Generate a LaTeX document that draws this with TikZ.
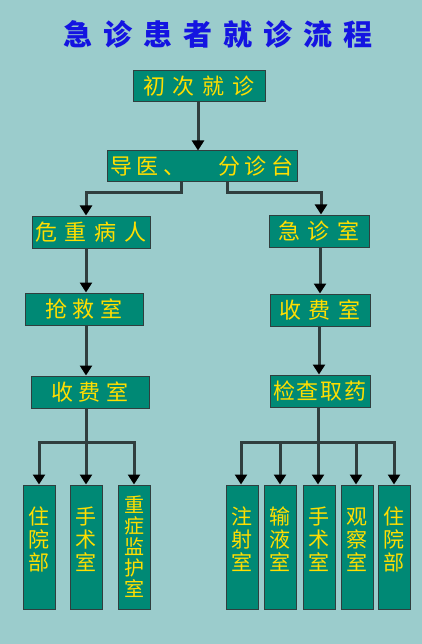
\documentclass[tikz,border=0pt]{standalone}
\usepackage{fontspec}
\usepackage{tikz}
\usetikzlibrary{arrows.meta}
\newfontfamily\cjk{Noto Sans CJK SC}
\definecolor{bgteal}{RGB}{155,204,204}
\definecolor{boxteal}{RGB}{0,137,117}
\definecolor{boxyellow}{RGB}{255,222,0}
\definecolor{titleblue}{RGB}{20,20,225}
\definecolor{linegray}{RGB}{48,62,62}

\makeatletter
\newcommand\spaced[2]{%
  \def\spacedsep{}%
  \@tfor\spacedc:=#2\do{\spacedsep\spacedc\def\spacedsep{\hspace{#1}}}}
\makeatother

\tikzset{
  hbox/.style={draw=linegray,line width=1pt,fill=boxteal,text=boxyellow,inner sep=0pt,
    minimum height=31pt,font=\cjk\fontsize{22}{26}\selectfont},
  vbox/.style={draw=linegray,line width=1pt,fill=boxteal,text=boxyellow,inner sep=0pt,
    minimum width=32pt,minimum height=124pt,align=center,font=\cjk\fontsize{21}{23}\selectfont},
  conn/.style={draw=linegray,line width=3pt},
  arr/.style={conn,-{Triangle[width=12pt,length=10pt,color=black]}}
}

\begin{document}
\begin{tikzpicture}[x=1pt,y=-1pt]
\useasboundingbox[fill=bgteal] (0,0) rectangle (422,644);
\node[text=titleblue,font=\cjk\bfseries\fontsize{29}{32}\selectfont] (title) at (218,34) {\spaced{11pt}{急诊患者就诊流程}};

% top
\node[hbox,minimum width=132pt] (chuci) at (199,86.5) {\spaced{8pt}{初次就诊}};
\node[hbox,minimum width=190pt] (daoyi) at (202,166.5) {\spaced{5pt}{导医、　分诊台}};
\draw[arr] (chuci.south -| 198,0) -- (daoyi.north -| 198,0);

% left column
\node[hbox,minimum width=118pt,minimum height=32pt] (weizhong) at (91,232) {\spaced{8pt}{危重病人}};
\node[hbox,minimum width=118pt,minimum height=32pt] (qiangjiu) at (84,309) {\spaced{6pt}{抢救室}};
\node[hbox,minimum width=118pt,minimum height=32pt] (shoufeiL) at (90,392) {\spaced{6pt}{收费室}};
\draw[arr] (daoyi.south -| 181,0) -- (181,193) -| (weizhong.north -| 86,0);
\draw[arr] (weizhong.south -| 86,0) -- (qiangjiu.north -| 86,0);
\draw[arr] (qiangjiu.south -| 86,0) -- (shoufeiL.north -| 86,0);

% right column
\node[hbox,minimum width=100pt,minimum height=32pt] (jizhen) at (319,231) {\spaced{8pt}{急诊室}};
\node[hbox,minimum width=100pt,minimum height=32pt] (shoufeiR) at (320,310) {\spaced{8pt}{收费室}};
\node[hbox,minimum width=100pt,minimum height=32pt] (jiancha) at (320,391) {\spaced{2pt}{检查取药}};
\draw[arr] (daoyi.south -| 227,0) -- (227,193) -| (jizhen.north -| 321,0);
\draw[arr] (jizhen.south -| 320,0) -- (shoufeiR.north -| 320,0);
\draw[arr] (shoufeiR.south -| 319,0) -- (jiancha.north -| 319,0);

% bottom left
\node[vbox,text depth=16pt] (zhuyuanL) at (39,547) {住\\院\\部};
\node[vbox,text depth=16pt] (shoushuL) at (86,547) {手\\术\\室};
\node[vbox,font=\cjk\fontsize{20}{21}\selectfont] (jianhu) at (134,547) {重\\症\\监\\护\\室};
\coordinate (forkL) at (86,442);
\draw[conn] (shoufeiL.south -| forkL) -- (forkL);
\draw[arr] (forkL) -| (zhuyuanL);
\draw[arr] (forkL) -- (shoushuL);
\draw[arr] (forkL) -| (jianhu);

% bottom right
\node[vbox,text depth=16pt] (zhushe) at (242,547) {注\\射\\室};
\node[vbox,text depth=16pt] (shuye) at (280,547) {输\\液\\室};
\node[vbox,text depth=16pt] (shoushuR) at (319,547) {手\\术\\室};
\node[vbox,text depth=16pt] (guancha) at (357,547) {观\\察\\室};
\node[vbox,text depth=16pt] (zhuyuanR) at (394,547) {住\\院\\部};
\coordinate (forkR) at (318,442);
\draw[conn] (jiancha.south -| forkR) -- (forkR);
\draw[arr] (forkR) -| (zhushe.north -| 241,0);
\draw[arr] (forkR) -| (shuye);
\draw[arr] (forkR) -- (shoushuR.north -| forkR);
\draw[arr] (forkR) -| (guancha.north -| 356,0);
\draw[arr] (forkR) -| (zhuyuanR);
\end{tikzpicture}
\end{document}
